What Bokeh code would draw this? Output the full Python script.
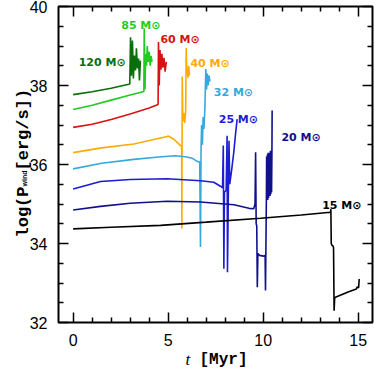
from math import pi
from bokeh.plotting import figure
from bokeh.models import Range1d, FixedTicker, LinearAxis, Label, ColumnDataSource
from bokeh.core.properties import value
from bokeh.embed import file_html
from bokeh.resources import INLINE

# ---------------- data ----------------
masses = ["120", "85", "60", "40", "32", "25", "20", "15"]
colors = ["#0b6e0b", "#1fcc1f", "#d81212", "#ffab00", "#36a9da", "#1c1cd2", "#10108c", "#000000"]

t_120 = [0, 1, 2, 2.98, 3.02, 3.07, 3.12, 3.17, 3.22, 3.28, 3.33, 3.38, 3.44, 3.49, 3.54]
p_120 = [37.77, 37.84, 37.93, 38.04, 39.22, 38.25, 39.14, 38.18, 38.76, 38.38, 38.94, 38.43, 38.68, 38.13, 38.63]

t_85 = [0, 1, 2, 3, 3.72, 3.74, 3.78, 3.82, 3.86, 3.90, 3.95, 4.00, 4.05, 4.10, 4.15]
p_85 = [37.39, 37.50, 37.63, 37.76, 37.85, 39.45, 37.90, 38.80, 38.50, 39.00, 38.60, 38.85, 38.50, 38.75, 38.60]

t_60 = [0, 1, 2, 3, 4, 4.47, 4.49, 4.53, 4.57, 4.62, 4.67, 4.72, 4.78, 4.84, 4.90]
p_60 = [36.94, 37.02, 37.14, 37.28, 37.43, 37.52, 39.10, 38.00, 38.90, 38.40, 38.80, 38.45, 38.70, 38.35, 38.60]

t_40 = [0, 1.5, 3.19, 4.3, 4.95, 5.0, 5.3, 5.47, 5.65, 5.71, 5.72, 5.74, 5.77, 5.82, 5.87, 5.92,
        5.95, 5.98, 6.01, 6.04, 6.08, 6.12]
p_40 = [36.30, 36.42, 36.52, 36.64, 36.71, 36.72, 36.64, 36.56, 36.48, 36.45, 34.38, 38.23, 37.10,
        37.30, 37.05, 37.35, 38.95, 38.30, 38.45, 38.20, 38.50, 38.25]

t_32 = [0, 1.5, 3.19, 4.5, 5.38, 6.0, 6.3, 6.52, 6.66, 6.70, 6.73, 6.76, 6.80, 6.84, 6.88, 6.93,
        6.98, 7.02, 7.06, 7.10, 7.15, 7.20]
p_32 = [35.89, 36.03, 36.13, 36.19, 36.22, 36.19, 36.15, 36.08, 36.06, 33.91, 36.40, 37.00, 36.50,
        37.20, 36.90, 37.40, 38.42, 37.90, 38.30, 38.00, 38.25, 38.10]

t_25 = [0, 1.44, 3.0, 4.95, 6.7, 7.4, 7.75, 7.86, 7.90, 7.93, 7.96, 8.05, 8.10, 8.12, 8.16, 8.20,
        8.24, 8.35, 8.45, 8.55, 8.63]
p_25 = [35.38, 35.57, 35.62, 35.64, 35.59, 35.55, 35.45, 35.41, 36.48, 33.36, 35.30, 35.35, 36.73,
        33.27, 35.00, 36.60, 35.50, 35.90, 36.30, 36.80, 37.15]

t_20 = [0, 1.44, 3.0, 4.95, 6.7, 8.46, 9.25, 9.5, 9.57, 9.60, 9.63, 9.66, 9.69, 9.72, 9.80, 10.03,
        10.10, 10.12, 10.17, 10.18, 10.20, 10.22, 10.24, 10.26, 10.28, 10.30, 10.32, 10.34, 10.36,
        10.38, 10.40, 10.42, 10.44, 10.46, 10.47]
p_20 = [34.85, 34.94, 35.02, 35.07, 35.05, 34.98, 34.89, 34.88, 35.00, 36.31, 34.50, 34.45, 32.89,
        33.75, 33.70, 33.68, 33.70, 32.81, 35.30, 36.20, 35.10, 36.25, 35.10, 36.30, 35.15, 36.30,
        35.20, 36.30, 35.20, 36.35, 35.25, 36.35, 35.30, 36.40, 37.37]

t_15 = [0, 2, 4.6, 7, 9.86, 12, 13.54, 13.56, 13.58, 13.62, 13.66, 13.70, 13.73, 13.76, 13.80,
        14.5, 14.9, 14.95, 15.02, 15.05]
p_15 = [34.37, 34.41, 34.46, 34.54, 34.64, 34.72, 34.79, 34.87, 34.00, 33.95, 33.95, 33.90, 32.30,
        32.62, 32.64, 32.78, 32.85, 32.90, 32.88, 33.10]

series_t = [t_120, t_85, t_60, t_40, t_32, t_25, t_20, t_15]
series_p = [p_120, p_85, p_60, p_40, p_32, p_25, p_20, p_15]

label_t = [0.29, 2.53, 4.59, 6.17, 7.40, 7.66, 10.96, 13.10]
label_p = [38.58, 39.52, 39.16, 38.55, 37.83, 37.14, 36.68, 34.96]
label_txt = [m + " M\u2299" for m in masses]

x_major = [0, 5, 10, 15]
x_minor = [1, 2, 3, 4, 6, 7, 8, 9, 11, 12, 13, 14]
y_major = [32, 34, 36, 38, 40]
y_minor = [32.5, 33, 33.5, 34.5, 35, 35.5, 36.5, 37, 37.5, 38.5, 39, 39.5]

# ---------------- layout of the plot box inside the canvas ----------------
W, H = 374, 370
X_LO, X_HI, Y_LO, Y_HI = -0.77, 15.75, 32.0, 40.0
BOX_L, BOX_R, BOX_T, BOX_B = 58, 372, 6, 322
kx = (BOX_R - BOX_L) / (X_HI - X_LO)
ky = (BOX_B - BOX_T) / (Y_HI - Y_LO)
x_range = Range1d(X_LO - BOX_L / kx, X_HI + (W - BOX_R) / kx)
y_range = Range1d(Y_LO - (H - BOX_B) / ky, Y_HI + BOX_T / ky)


def dx(px):
    return X_LO + (px - BOX_L) / kx


def dy(py):
    return Y_HI - (py - BOX_T) / ky


p = figure(width=W, height=H, output_backend="svg", toolbar_location=None,
           x_range=x_range, y_range=y_range,
           min_border_left=0, min_border_right=0, min_border_top=0, min_border_bottom=0,
           x_axis_location=None, y_axis_location=None)
p.styles = {"position": "absolute", "left": "0px", "top": "0px"}
p.xgrid.visible = False
p.ygrid.visible = False
p.outline_line_color = None
p.background_fill_color = None
p.border_fill_color = None

# plot box
p.quad(left=[X_LO], right=[X_HI], bottom=[Y_LO], top=[Y_HI], fill_color=None,
       line_color="black", line_width=2)


def make_axis(kind, loc, show_labels):
    if kind == "x":
        tk = FixedTicker(ticks=x_major, minor_ticks=x_minor)
    else:
        tk = FixedTicker(ticks=y_major, minor_ticks=y_minor)
    ax = LinearAxis(ticker=tk, fixed_location=loc)
    ax.axis_line_color = None
    ax.major_tick_in = 10
    ax.major_tick_out = 0
    ax.minor_tick_in = 5
    ax.minor_tick_out = 0
    ax.major_tick_line_width = 1.5
    ax.minor_tick_line_width = 1.5
    ax.major_tick_line_color = "black"
    ax.minor_tick_line_color = "black"
    if show_labels:
        ax.major_label_text_font = "Liberation Sans"
        ax.major_label_text_font_size = "16px"
        ax.major_label_text_color = "black"
        ax.major_label_standoff = 11
    else:
        ax.major_label_text_color = None
        ax.major_label_standoff = 0
    return ax


p.add_layout(make_axis("x", Y_LO, True), "below")
p.add_layout(make_axis("y", X_LO, True), "left")
p.add_layout(make_axis("x", Y_HI, False), "above")
p.add_layout(make_axis("y", X_HI, False), "right")

for ts, ps, c in zip(series_t, series_p, colors):
    p.line(ts, ps, line_color=c, line_width=1.6)

src = ColumnDataSource(dict(x=label_t, y=label_p, text=label_txt, color=colors))
p.text(x="x", y="y", text="text", text_color="color", source=src,
       text_font=value("DejaVu Sans"), text_font_size="11px", text_font_style="bold",
       text_baseline="alphabetic", text_align="left")

# y-axis title: log(P_wind [erg/s])
p.add_layout(Label(x=dx(22.5), y=dy(237), text="log(P", angle=pi / 2,
                   text_font="Liberation Mono", text_font_size="17px", text_font_style="bold",
                   text_baseline="alphabetic", text_color="black"))
p.add_layout(Label(x=dx(23.5), y=dy(186), text="wind", angle=pi / 2,
                   text_font="Liberation Sans", text_font_size="7px", text_font_style="bold",
                   text_baseline="alphabetic", text_color="black"))
p.add_layout(Label(x=dx(22.5), y=dy(170), text="[erg/s])", angle=pi / 2,
                   text_font="Liberation Mono", text_font_size="17px", text_font_style="bold",
                   text_baseline="alphabetic", text_color="black"))

# x-axis title: t [Myr]
p.add_layout(Label(x=dx(185), y=dy(359), text="t", text_font="Liberation Serif",
                   text_font_size="17px", text_font_style="italic",
                   text_baseline="alphabetic", text_color="black"))
p.add_layout(Label(x=dx(199), y=dy(359), text="[Myr]", text_font="Liberation Mono",
                   text_font_size="16px", text_font_style="bold",
                   text_baseline="alphabetic", text_color="black"))

open("out.html", "w").write(file_html(p, INLINE))
